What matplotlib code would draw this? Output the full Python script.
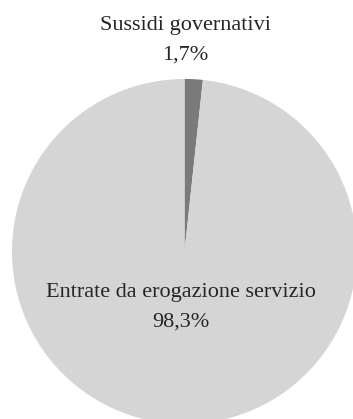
import matplotlib
matplotlib.use("Agg")
import matplotlib.pyplot as plt

categories = ["Sussidi governativi", "Entrate da erogazione servizio"]
shares = [1.7, 98.3]
value_labels = ["1,7%", "98,3%"]
colors = ["#7a7a7a", "#d5d5d5"]

W, H = 353, 419
fig = plt.figure(figsize=(W / 100, H / 100), dpi=100)
ax = fig.add_axes([0, 0, 1, 1])
ax.set_xlim(0, W)
ax.set_ylim(0, H)
ax.set_aspect("equal")
ax.axis("off")

cx, cy, r = 184.5, H - 251.5, 172.5
ax.pie(shares, colors=colors, startangle=90, counterclock=False,
       center=(cx, cy), radius=r, explode=[9 / r, 0],
       wedgeprops=dict(linewidth=0))
ax.set_xlim(0, W)
ax.set_ylim(0, H)

font = dict(family="Liberation Serif", color="#262626", ha="center", va="center")
ax.text(185, H - 25, categories[0], fontsize=16, **font)
ax.text(185, H - 55, value_labels[0], fontsize=16, **font)
ax.text(181, H - 293, categories[1], fontsize=16, **font)
ax.text(181, H - 322, value_labels[1], fontsize=16, **font)

fig.savefig("out.png", dpi=100)
